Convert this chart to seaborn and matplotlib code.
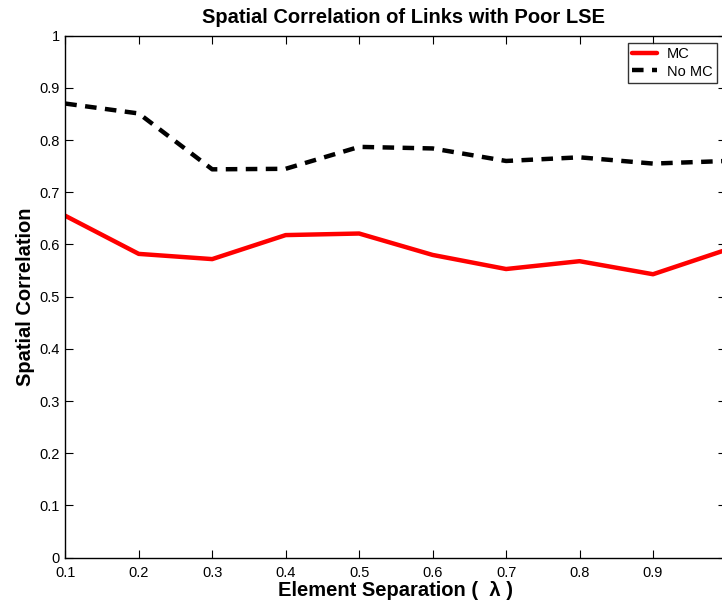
import matplotlib
matplotlib.use("Agg")
import matplotlib.pyplot as plt
import seaborn as sns
import pandas as pd

separation = [0.1, 0.2, 0.3, 0.4, 0.5, 0.6, 0.7, 0.8, 0.9, 1.0]
mc_values = [0.655, 0.582, 0.572, 0.618, 0.621, 0.580, 0.553, 0.568, 0.543, 0.590]
no_mc_values = [0.870, 0.851, 0.744, 0.745, 0.787, 0.784, 0.760, 0.767, 0.755, 0.760]
series_names = ["MC", "No MC"]
x_ticks = [0.1, 0.2, 0.3, 0.4, 0.5, 0.6, 0.7, 0.8, 0.9, 1.0]
x_tick_labels = ["0.1", "0.2", "0.3", "0.4", "0.5", "0.6", "0.7", "0.8", "0.9", ""]
y_ticks = [0, 0.1, 0.2, 0.3, 0.4, 0.5, 0.6, 0.7, 0.8, 0.9, 1.0]
y_tick_labels = ["0", "0.1", "0.2", "0.3", "0.4", "0.5", "0.6", "0.7", "0.8", "0.9", "1"]

sns.set_style("white")
plt.rcParams["font.family"] = ["Liberation Sans", "DejaVu Sans"]
plt.rcParams["text.color"] = "black"
plt.rcParams["axes.labelcolor"] = "black"
plt.rcParams["xtick.color"] = "black"
plt.rcParams["ytick.color"] = "black"

df = pd.DataFrame({
    "sep": separation * 2,
    "val": mc_values + no_mc_values,
    "series": [series_names[0]] * len(mc_values) + [series_names[1]] * len(no_mc_values),
})

fig = plt.figure(figsize=(7.22, 6.04), dpi=100)
ax = fig.add_axes([0.0904, 0.0767, 0.9158, 0.8642])

sns.lineplot(data=df[df.series == "MC"], x="sep", y="val", ax=ax,
             color="#ff0000", linewidth=3.2, label="MC")
sns.lineplot(data=df[df.series == "No MC"], x="sep", y="val", ax=ax,
             color="black", linewidth=3.2, linestyle=(0, (2.6, 1.9)), label="No MC")

ax.set_xlim(0.1, 1.0)
ax.set_ylim(0, 1)
ax.set_xticks(x_ticks)
ax.set_xticklabels(x_tick_labels, fontsize=10.5)
ax.set_yticks(y_ticks)
ax.set_yticklabels(y_tick_labels, fontsize=10.5)
ax.tick_params(direction="in", length=6, width=0.8, top=True, right=True,
               bottom=True, left=True, colors="black", labelcolor="black")
ax.tick_params(axis="x", pad=6)
ax.tick_params(axis="y", pad=4)
for s in ax.spines.values():
    s.set_color("black")
    s.set_linewidth(1.0)

ax.set_title("Spatial Correlation of Links with Poor LSE", fontsize=14.5,
             fontweight="bold", pad=9, color="black", x=0.5115)
ax.set_xlabel("Element Separation (  λ )", fontsize=14.5, fontweight="bold",
              labelpad=1, color="black")
ax.set_ylabel("Spatial Correlation", fontsize=14.5, fontweight="bold",
              labelpad=3, color="black")

leg = ax.legend(loc="upper right", bbox_to_anchor=(0.9856, 0.986), borderaxespad=0,
                fontsize=10.5, frameon=True, fancybox=False, handlelength=1.75,
                borderpad=0.3, labelspacing=0.22, handletextpad=0.65)
leg.get_frame().set_edgecolor("black")
leg.get_frame().set_linewidth(1.0)
for t in leg.get_texts():
    t.set_color("black")

fig.savefig("out.png", dpi=100)
